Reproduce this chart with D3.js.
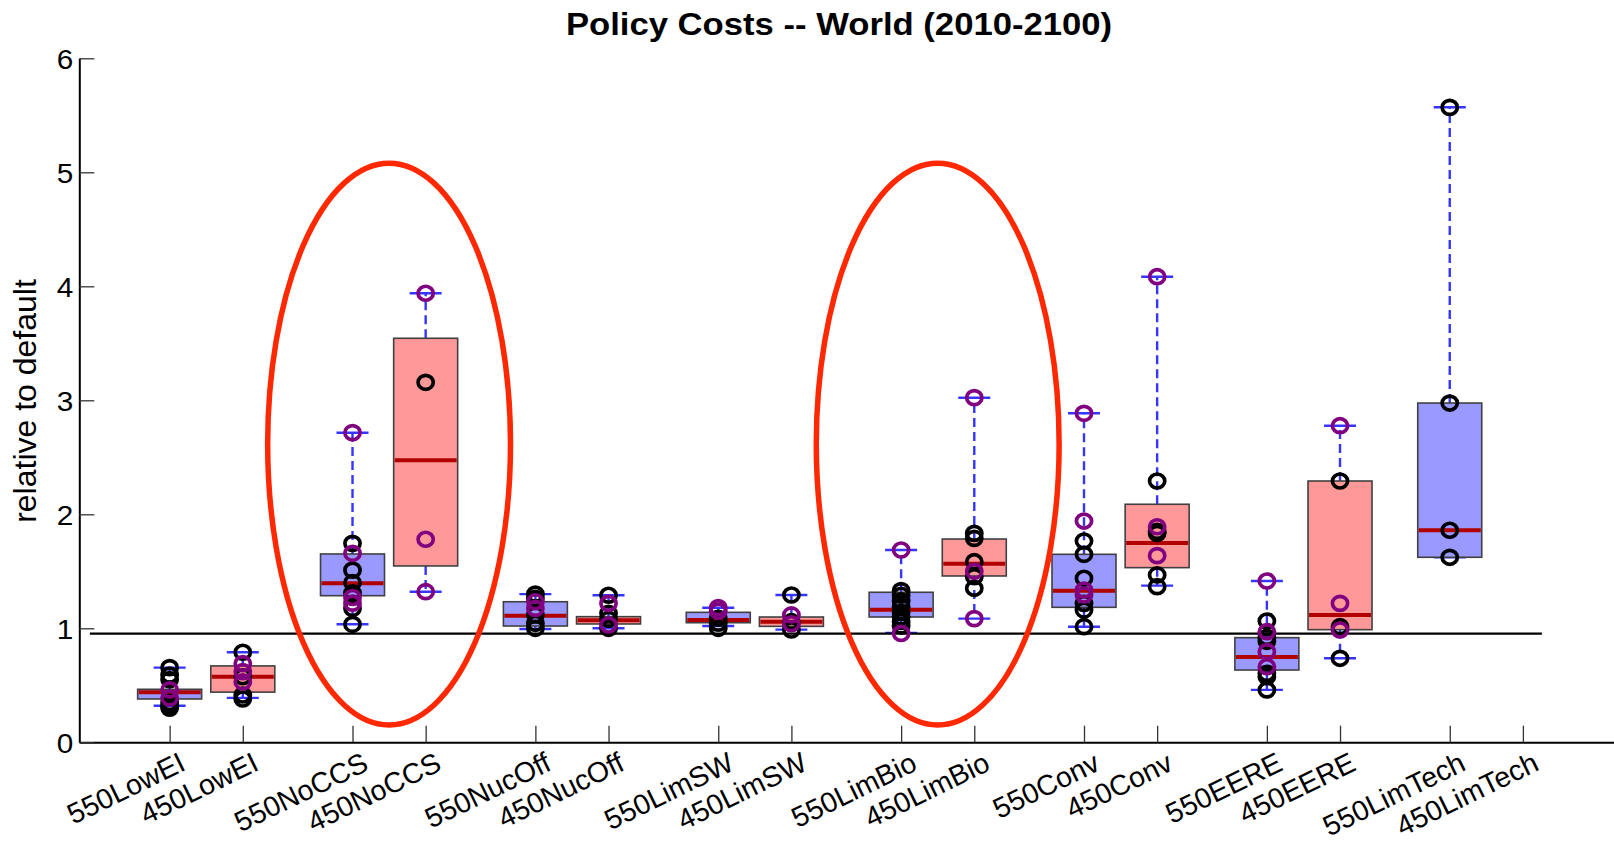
<!DOCTYPE html>
<html>
<head>
<meta charset="utf-8">
<script src="https://cdn.jsdelivr.net/npm/d3@7"></script>
<style>
  body { margin: 0; background: #fff; }
  svg { display: block; font-family: "Liberation Sans", Arial, Helvetica, sans-serif; }
</style>
</head>
<body>
<svg id="chart" width="1614" height="845"></svg>
<script>
// Scenario names, in plotting order (550 / 450 pairs)
const categories = [
  "550LowEI", "450LowEI", "550NoCCS", "450NoCCS", "550NucOff", "450NucOff",
  "550LimSW", "450LimSW", "550LimBio", "450LimBio", "550Conv", "450Conv",
  "550EERE", "450EERE", "550LimTech", "450LimTech"
];

// Box statistics (relative to default); null where a scenario has no results
const boxQ1       = [0.38, 0.44, 1.286, 1.547, 1.02, 1.038, 1.049, 1.017, 1.099, 1.459, 1.184, 1.532, 0.634, 0.988, 1.623, null];
const boxMedian   = [0.44, 0.575, 1.395, 2.474, 1.11, 1.07, 1.073, 1.058, 1.163, 1.567, 1.33, 1.748, 0.748, 1.117, 1.86, null];
const boxQ3       = [0.465, 0.67, 1.652, 3.544, 1.233, 1.102, 1.14, 1.099, 1.316, 1.783, 1.649, 2.088, 0.918, 2.292, 2.976, null];
const whiskerLow  = [0.32, 0.39, 1.035, 1.321, 0.994, 1.0, 1.02, 0.988, 0.96, 1.085, 1.014, 1.374, 0.46, 0.737, 1.623, null];
const whiskerHigh = [0.655, 0.79, 2.716, 3.939, 1.30, 1.29, 1.18, 1.292, 1.687, 3.023, 2.886, 4.084, 1.415, 2.777, 5.57, null];

// Individual model results, black and purple markers
const blackPoints = [
  [0.655, 0.59, 0.55, 0.35, 0.32, 0.30],
  [0.79, 0.575, 0.415, 0.38],
  [1.745, 1.51, 1.40, 1.31, 1.175, 1.035],
  [3.158],
  [1.30, 1.263, 1.117, 1.044, 1.0],
  [1.29, 1.132, 1.079, 1.0],
  [1.088, 1.045, 1.0],
  [1.292, 1.058, 0.985],
  [1.33, 1.29, 1.24, 1.19, 1.14, 1.10, 1.06, 1.02],
  [1.833, 1.789, 1.584, 1.453, 1.351],
  [1.766, 1.649, 1.439, 1.219, 1.16, 1.014],
  [2.292, 1.85, 1.833, 1.468, 1.365],
  [1.064, 0.92, 0.886, 0.605, 0.575, 0.459],
  [2.292, 1.014, 0.737],
  [5.57, 2.976, 1.86, 1.623],
  []
];
const purplePoints = [
  [0.46, 0.39],
  [0.69, 0.62, 0.53],
  [2.716, 1.658, 1.27, 1.22],
  [3.939, 1.781, 1.321],
  [1.233, 1.175],
  [1.219, 1.029],
  [1.181, 1.15],
  [1.117, 1.04],
  [1.687, 0.956],
  [3.023, 1.50, 1.085],
  [2.886, 1.941, 1.336, 1.292],
  [4.084, 1.891, 1.637],
  [1.415, 0.97, 0.795, 0.663],
  [2.777, 1.219, 0.985],
  [],
  []
];

const yTicks = [0, 1, 2, 3, 4, 5, 6];
const referenceLevel = 0.954;
const referenceSpan = [-0.09, 19.76];

// Highlighted scenario pairs, outlined by ellipses
const highlightPairs = [["550NoCCS", "450NoCCS"], ["550LimBio", "450LimBio"]];
const highlightHalfWidth = 1.66;
const highlightRange = [0.152, 5.08];

const titleText = "Policy Costs -- World (2010-2100)";
const yLabelText = "relative to default";

// ---- layout ----
const svg = d3.select("#chart");
const stretch = 1.1;               // horizontal stretch for title and y tick labels
const fontStack = '"Liberation Sans", Arial, Helvetica, sans-serif';

// Pairs sit one unit apart; pairs are spaced 2.5 units apart
const positions = categories.map((c, k) => Math.floor(k / 2) * 2.5 + (k % 2) + 1);
const posOf = name => positions[categories.indexOf(name)];

const x = d3.scaleLinear().domain([-0.235, 20.74]).range([79.3, 1613.6]);
const y = d3.scaleLinear().domain([0, 6]).range([742.3, 58.3]);

const boxW = 64, capW = 32;
const blueFill = "#9999ff", redFill = "#ff9999";
const whiskerColor = "#3535ff", medianColor = "#b00000";

// ---- axes ----
const xAxis = d3.axisBottom(x).tickValues(positions).tickSizeInner(-16.6).tickSizeOuter(0).tickFormat("");
const gx = svg.append("g").attr("transform", `translate(0,${y(0)})`).call(xAxis);
gx.select(".domain").attr("stroke", "#000").attr("stroke-width", 2);
gx.selectAll(".tick line").attr("stroke", "#333").attr("stroke-width", 1.3);

// rotated scenario labels, right end tucked under each tick
gx.selectAll(".tick").append("text")
  .text((d, i) => categories[i])
  .attr("fill", "#000")
  .attr("font-size", 28.5)
  .attr("font-family", fontStack)
  .attr("text-anchor", "end")
  .attr("transform", "translate(17,27) rotate(-26)");

const yAxis = d3.axisLeft(y).tickValues(yTicks).tickSizeInner(-15).tickSizeOuter(0).tickFormat(d3.format("d"));
const gy = svg.append("g").attr("transform", `translate(${x(-0.235)},0)`).call(yAxis);
gy.select(".domain").attr("stroke", "#000").attr("stroke-width", 2);
gy.selectAll(".tick line").attr("stroke", "#333").attr("stroke-width", 1.3);
gy.selectAll(".tick text")
  .attr("x", null).attr("dy", "0.36em")
  .attr("fill", "#000")
  .attr("font-size", 27)
  .attr("font-family", fontStack)
  .attr("text-anchor", "end")
  .attr("transform", `translate(-6,0) scale(${stretch},1)`);

// ---- boxes ----
const boxes = categories.map((c, i) => ({
  name: c, pos: positions[i], q1: boxQ1[i], med: boxMedian[i], q3: boxQ3[i],
  lo: whiskerLow[i], hi: whiskerHigh[i], fill: c.startsWith("550") ? blueFill : redFill
})).filter(d => d.med !== null);

const gb = svg.append("g");
// dashed whiskers
gb.selectAll("line.wh-up").data(boxes).join("line")
  .attr("x1", d => x(d.pos)).attr("x2", d => x(d.pos))
  .attr("y1", d => y(d.q3)).attr("y2", d => y(d.hi))
  .attr("stroke", whiskerColor).attr("stroke-width", 2.4).attr("stroke-dasharray", "9,5");
gb.selectAll("line.wh-dn").data(boxes).join("line")
  .attr("x1", d => x(d.pos)).attr("x2", d => x(d.pos))
  .attr("y1", d => y(d.q1)).attr("y2", d => y(d.lo))
  .attr("stroke", whiskerColor).attr("stroke-width", 2.4).attr("stroke-dasharray", "9,5");
// whisker caps
["hi", "lo"].forEach(k => {
  gb.append("g").selectAll("line").data(boxes).join("line")
    .attr("x1", d => x(d.pos) - capW / 2).attr("x2", d => x(d.pos) + capW / 2)
    .attr("y1", d => y(d[k])).attr("y2", d => y(d[k]))
    .attr("stroke", whiskerColor).attr("stroke-width", 2.4);
});
// boxes
gb.append("g").selectAll("rect").data(boxes).join("rect")
  .attr("x", d => x(d.pos) - boxW / 2).attr("width", boxW)
  .attr("y", d => y(d.q3)).attr("height", d => y(d.q1) - y(d.q3))
  .attr("fill", d => d.fill).attr("stroke", "#404040").attr("stroke-width", 1.6);
// medians
gb.append("g").selectAll("line").data(boxes).join("line")
  .attr("x1", d => x(d.pos) - boxW / 2 + 1).attr("x2", d => x(d.pos) + boxW / 2 - 1)
  .attr("y1", d => y(d.med)).attr("y2", d => y(d.med))
  .attr("stroke", medianColor).attr("stroke-width", 4);

// ---- reference line ----
svg.append("line")
  .attr("x1", x(referenceSpan[0])).attr("x2", x(referenceSpan[1]))
  .attr("y1", y(referenceLevel)).attr("y2", y(referenceLevel))
  .attr("stroke", "#000").attr("stroke-width", 2.2);

// ---- individual results ----
function drawPoints(series, color) {
  const pts = [];
  series.forEach((vals, i) => vals.forEach(v => pts.push({ pos: positions[i], v })));
  svg.append("g").selectAll("ellipse").data(pts).join("ellipse")
    .attr("cx", d => x(d.pos)).attr("cy", d => y(d.v))
    .attr("rx", 7.6).attr("ry", 7)
    .attr("fill", "none").attr("stroke", color).attr("stroke-width", 3.7);
}
drawPoints(blackPoints, "#000");
drawPoints(purplePoints, "#800080");

// ---- highlight ellipses ----
svg.append("g").selectAll("ellipse").data(highlightPairs).join("ellipse")
  .attr("cx", d => x((posOf(d[0]) + posOf(d[1])) / 2))
  .attr("cy", y((highlightRange[0] + highlightRange[1]) / 2))
  .attr("rx", d => x(highlightHalfWidth) - x(0))
  .attr("ry", y(highlightRange[0]) - y((highlightRange[0] + highlightRange[1]) / 2))
  .attr("fill", "none").attr("stroke", "#ff2800").attr("stroke-width", 5.5);

// ---- title and y label ----
svg.append("text")
  .attr("transform", `translate(839,35) scale(${stretch},1)`)
  .attr("text-anchor", "middle").attr("font-weight", "bold").attr("font-size", 31.5)
  .text(titleText);

svg.append("text")
  .attr("transform", `translate(36,401) rotate(-90)`)
  .attr("text-anchor", "middle").attr("font-size", 32)
  .text(yLabelText);
</script>
</body>
</html>
